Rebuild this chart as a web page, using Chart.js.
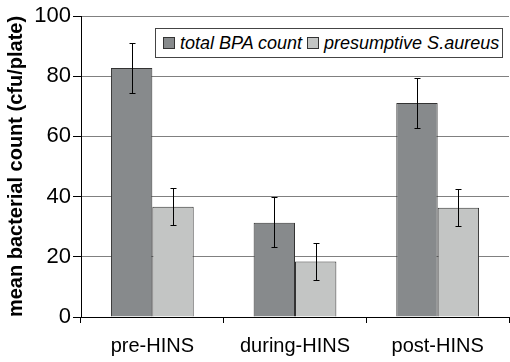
<!DOCTYPE html>
<html>
<head>
<meta charset="utf-8">
<script src="https://cdn.jsdelivr.net/npm/chart.js@4"></script>
<style>
    html, body { margin: 0; padding: 0; background: #fff; }
    #wrap { position: relative; width: 510px; height: 362px; }
    #legend {
        position: absolute; left: 155px; top: 28px; width: 348px; height: 30px;
        border: 1px solid #444; background: #fff; box-sizing: border-box;
        font: italic 18px "Liberation Sans", Arial, sans-serif; color: #000;
        display: flex; align-items: center; padding-left: 7px; white-space: nowrap;
    }
    #legend span.box {
        display: inline-block; width: 10px; height: 10px; border: 1px solid #333;
        margin-right: 5px; vertical-align: middle; position: relative; top: -1px;
    }
    #legend span.item { margin-right: 5px; }
</style>
</head>
<body>
<div id="wrap">
    <canvas id="chart" width="510" height="362"></canvas>
    <div id="legend"></div>
</div>
<script>
const categories = ['pre-HINS', 'during-HINS', 'post-HINS'];
const seriesNames = ['total BPA count', 'presumptive S.aureus'];
const bpaValues = [82.7, 31.3, 71.1];
const bpaErrLow = [74.5, 23.2, 62.9];
const bpaErrHigh = [91.0, 39.9, 79.3];
const aureusValues = [36.6, 18.4, 36.3];
const aureusErrLow = [30.5, 12.2, 30.1];
const aureusErrHigh = [43.0, 24.5, 42.4];
const yTicks = [0, 20, 40, 60, 80, 100];

const colors = ['#878a8c', '#c3c5c4'];
const fontFamily = '"Liberation Sans", Arial, sans-serif';

// draws the whiskers on top of each bar
const errorBars = {
    id: 'errorBars',
    afterDatasetsDraw(chart) {
        const ctx = chart.ctx;
        const y = chart.scales.y;
        chart.data.datasets.forEach((ds, i) => {
            const meta = chart.getDatasetMeta(i);
            meta.data.forEach((bar, j) => {
                const x = Math.round(bar.x) + 0.5;
                const top = Math.round(y.getPixelForValue(ds.errHigh[j])) + 0.5;
                const bot = Math.round(y.getPixelForValue(ds.errLow[j])) + 0.5;
                ctx.save();
                ctx.strokeStyle = '#000';
                ctx.lineWidth = 1;
                ctx.beginPath();
                ctx.moveTo(x, top); ctx.lineTo(x, bot);
                ctx.moveTo(x - 3, top); ctx.lineTo(x + 3, top);
                ctx.moveTo(x - 3, bot); ctx.lineTo(x + 3, bot);
                ctx.stroke();
                ctx.restore();
            });
        });
    }
};

const chart = new Chart(document.getElementById('chart').getContext('2d'), {
    type: 'bar',
    data: {
        labels: categories,
        datasets: [{
            label: seriesNames[0],
            data: bpaValues,
            errLow: bpaErrLow,
            errHigh: bpaErrHigh,
            backgroundColor: colors[0],
            borderColor: '#333',
            borderWidth: 1,
        }, {
            label: seriesNames[1],
            data: aureusValues,
            errLow: aureusErrLow,
            errHigh: aureusErrHigh,
            backgroundColor: colors[1],
            borderColor: '#333',
            borderWidth: 1,
        }]
    },
    options: {
        responsive: false,
        animation: false,
        layout: { padding: { top: 16, right: 1, left: 0, bottom: 0 } },
        datasets: { bar: { barPercentage: 1.0, categoryPercentage: 0.58 } },
        scales: {
            x: {
                afterFit(scale) { scale.height = 45; },
                grid: { display: true, offset: true, drawOnChartArea: false, tickLength: 6, color: '#000' },
                border: { color: '#000', width: 1 },
                ticks: {
                    color: '#000', padding: 11,
                    font: { family: fontFamily, size: 20 }
                }
            },
            y: {
                min: 0, max: 100,
                afterFit(scale) { scale.width = 81; },
                afterBuildTicks(scale) { scale.ticks = yTicks.map(v => ({ value: v })); },
                grid: { color: '#808080', tickColor: '#000', tickLength: 8 },
                border: { color: '#000', width: 1 },
                ticks: {
                    color: '#000', padding: 2,
                    font: { family: fontFamily, size: 22 }
                },
                title: {
                    display: true,
                    text: 'mean bacterial count (cfu/plate)',
                    color: '#000',
                    padding: { top: 4, bottom: 0 },
                    font: { family: fontFamily, size: 20, weight: 'bold' }
                }
            }
        },
        plugins: {
            legend: { display: false },
            tooltip: { enabled: false }
        }
    },
    plugins: [errorBars]
});

// html legend built from the datasets
const legend = document.getElementById('legend');
chart.data.datasets.forEach(ds => {
    const item = document.createElement('span');
    item.className = 'item';
    item.innerHTML = '<span class="box" style="background:' + ds.backgroundColor + '"></span>' + ds.label;
    legend.appendChild(item);
});
</script>
</body>
</html>
